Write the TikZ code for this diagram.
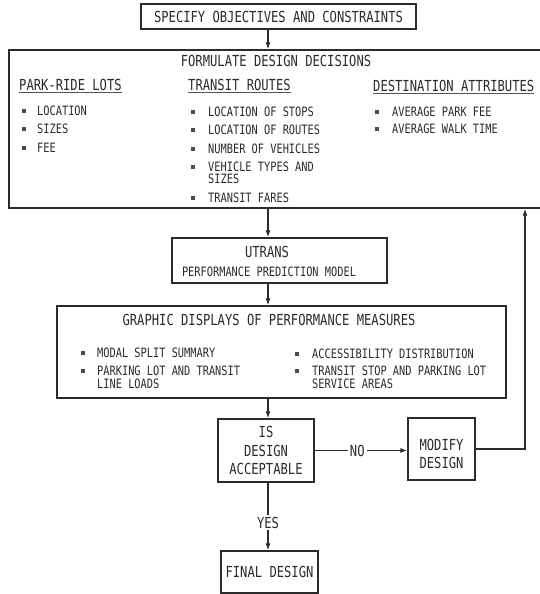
\documentclass[tikz,border=0pt]{standalone}
\usepackage{fontspec}
\setmainfont{DejaVu Sans Mono}[FakeStretch=0.8]
\usetikzlibrary{arrows.meta}
\newcommand\myfs[1]{\fontsize{#1}{#1}\selectfont}
\definecolor{ink}{HTML}{2B2B2B}
\begin{document}
\begin{tikzpicture}[x=1pt,y=-1pt,color=ink,
  box/.style={draw=ink, line width=1.3pt, inner sep=0pt},
  lg/.style={font=\myfs{15.2}},
  sm/.style={font=\myfs{12.9}},
  ttl/.style={inner sep=0pt, lg, text height=11.1pt, text depth=0pt},
  item/.style={anchor=west, inner sep=0pt, sm, text height=9.4pt, text depth=0pt},
  hdr/.style={anchor=west, inner sep=0pt, lg, text height=11.1pt, text depth=0pt},
  bul/.style={fill=ink!85, minimum size=4pt, inner sep=0pt},
  arr/.style={-{Latex[length=7pt,width=5pt]}, line width=1.2pt, draw=ink},
  ln/.style={line width=1.2pt, draw=ink},
  uline/.style={line width=0.9pt, draw=ink!80}]
\path[use as bounding box] (0,0) rectangle (540,594);
\clip (0,0) rectangle (540,594);
\fill[white] (0,0) rectangle (540,594);

% column coordinates
\coordinate (cx) at (268,0);
\coordinate (rx) at (525,0);

% boxes
\node[box, minimum width=275pt, minimum height=25pt, lg] (spec) at (278.5,16.5) {SPECIFY OBJECTIVES AND CONSTRAINTS};
\node[box, minimum width=539pt, minimum height=158pt] (form) at (278.5,129) {};
\node[box, minimum width=215pt, minimum height=45pt] (utr) at (279.5,260.5) {};
\node[box, minimum width=449pt, minimum height=92pt] (gra) at (281.5,352) {};
\node[box, minimum width=96pt, minimum height=63pt, align=center, font={\fontsize{15.2}{18.5}\selectfont}] (isd) at (266,450.5) {IS\\DESIGN\\ACCEPTABLE};
\node[box, minimum width=67pt, minimum height=62pt] (mod) at (441.5,449) {};
\node[box, minimum width=97pt, minimum height=42pt, lg] (fin) at (269.5,572) {FINAL DESIGN};

% titles
\node[ttl] (ftitle) at (276,61) {FORMULATE DESIGN DECISIONS};
\node[ttl] (utitle) at (267,252) {UTRANS};
\node[inner sep=0pt, sm, text height=9.4pt, text depth=0pt] (usub) at (269,272) {PERFORMANCE PREDICTION MODEL};
\node[ttl] (gtitle) at (269,320) {GRAPHIC DISPLAYS OF PERFORMANCE MEASURES};
\node[align=center, inner sep=0pt, font={\fontsize{15.2}{18}\selectfont}] (modt) at (441.5,454) {MODIFY\\DESIGN};

% headers
\node[hdr] (h1) at (19,85) {PARK-RIDE LOTS};
\node[hdr] (h2) at (188,85) {TRANSIT ROUTES};
\node[hdr] (h3) at (373,86) {DESTINATION ATTRIBUTES};
\draw[uline] ([yshift=-1.5pt]h1.south west) -- ([yshift=-1.5pt]h1.south east);
\draw[uline] ([yshift=-1.5pt]h2.south west) -- ([yshift=-1.5pt]h2.south east);
\draw[uline] ([yshift=-1.5pt]h3.south west) -- ([yshift=-1.5pt]h3.south east);

% column 1
\node[bul] (b11) at (24,111) {};
\node[item] (t11) at (37,111) {LOCATION};
\node[bul] (b12) at (24,129) {};
\node[item] (t12) at (37,129) {SIZES};
\node[bul] (b13) at (24,148) {};
\node[item] (t13) at (37,148) {FEE};

% column 2
\node[bul] (b21) at (193,112) {};
\node[item] (t21) at (208,112) {LOCATION OF STOPS};
\node[bul] (b22) at (193,130) {};
\node[item] (t22) at (208,130) {LOCATION OF ROUTES};
\node[bul] (b23) at (193,149) {};
\node[item] (t23) at (208,149) {NUMBER OF VEHICLES};
\node[bul] (b24) at (193,167) {};
\node[item] (t24) at (208,167) {VEHICLE TYPES AND};
\node[item] (t24b) at (208,179) {SIZES};
\node[bul] (b25) at (193,198) {};
\node[item] (t25) at (208,198) {TRANSIT FARES};

% column 3
\node[bul] (b31) at (377,112) {};
\node[item] (t31) at (392,112) {AVERAGE PARK FEE};
\node[bul] (b32) at (377,129) {};
\node[item] (t32) at (392,129) {AVERAGE WALK TIME};

% graphic displays
\node[bul] (g11) at (83,353) {};
\node[item] (gt11) at (97,353) {MODAL SPLIT SUMMARY};
\node[bul] (g12) at (83,371) {};
\node[item] (gt12) at (97,371) {PARKING LOT AND TRANSIT};
\node[item] (gt12b) at (97,383.5) {LINE LOADS};
\node[bul] (g21) at (297,354) {};
\node[item] (gt21) at (312,354) {ACCESSIBILITY DISTRIBUTION};
\node[bul] (g22) at (297,371) {};
\node[item] (gt22) at (312,371) {TRANSIT STOP AND PARKING LOT};
\node[item] (gt22b) at (312,383.5) {SERVICE AREAS};

% connectors
\draw[arr] (spec.south -| cx) -- (form.north -| cx);
\draw[arr] (form.south -| cx) -- (utr.north -| cx);
\draw[arr] (utr.south -| cx) -- (gra.north -| cx);
\draw[arr] (gra.south -| cx) -- (isd.north -| cx);
\draw[arr] (isd.east) -- (isd.east -| mod.west)
  node[pos=0.46, fill=white, inner sep=2pt, lg] (no) {NO};
\draw[arr] (mod.east) -- (mod.east -| rx) -- (form.south -| rx);
\draw[arr] (isd.south -| cx) -- (fin.north -| cx)
  node[pos=0.59, fill=white, inner sep=2pt, lg] (yes) {YES};
\end{tikzpicture}
\end{document}
